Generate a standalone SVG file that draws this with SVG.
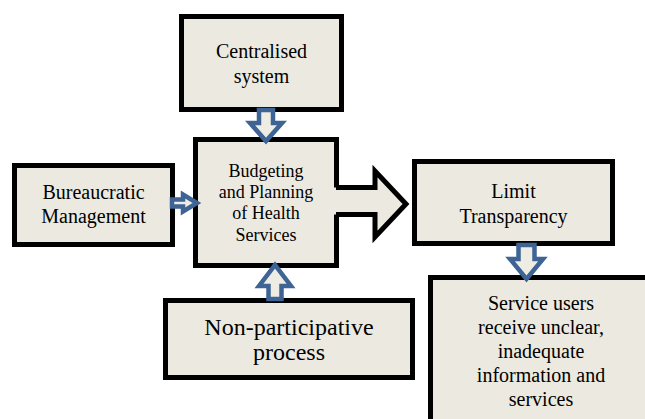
<svg xmlns="http://www.w3.org/2000/svg" width="645" height="419" viewBox="0 0 645 419">
<style>
.box{fill:#ECEAE0;stroke:#000;stroke-width:5}
.ba{fill:#EEECE3;stroke:#3D6494;stroke-width:4.5;stroke-linejoin:miter}
</style>
<rect width="645" height="419" fill="#fff"/>
<g id="centralised" font-family="Liberation Serif, Tinos, Times New Roman, Nimbus Roman, DejaVu Serif, Noto Serif, serif" text-anchor="middle" font-size="20">
<rect class="box" x="181.5" y="16.5" width="160" height="93"/>
<text x="261.5" y="58">Centralised</text>
<text x="261.5" y="83">system</text>
</g>
<g id="bureaucratic" font-family="Liberation Serif, Tinos, Times New Roman, Nimbus Roman, DejaVu Serif, Noto Serif, serif" text-anchor="middle" font-size="20">
<rect class="box" x="14.5" y="165.5" width="158" height="79"/>
<text x="93.5" y="199">Bureaucratic</text>
<text x="93.5" y="223">Management</text>
</g>
<g id="budgeting" font-family="Liberation Serif, Tinos, Times New Roman, Nimbus Roman, DejaVu Serif, Noto Serif, serif" text-anchor="middle" font-size="18">
<rect class="box" x="195.5" y="139.5" width="141" height="126"/>
<text x="266" y="177">Budgeting</text>
<text x="266" y="198">and Planning</text>
<text x="266" y="219">of Health</text>
<text x="266" y="241">Services</text>
</g>
<g id="limit" font-family="Liberation Serif, Tinos, Times New Roman, Nimbus Roman, DejaVu Serif, Noto Serif, serif" text-anchor="middle" font-size="20">
<rect class="box" x="414.5" y="161.5" width="198" height="82"/>
<text x="513.5" y="198">Limit</text>
<text x="513.5" y="223">Transparency</text>
</g>
<g id="service" font-family="Liberation Serif, Tinos, Times New Roman, Nimbus Roman, DejaVu Serif, Noto Serif, serif" text-anchor="middle" font-size="20">
<rect class="box" x="430.5" y="277.5" width="230" height="160"/>
<text x="541" y="310">Service users</text>
<text x="541" y="334">receive unclear,</text>
<text x="541" y="358">inadequate</text>
<text x="541" y="382">information and</text>
<text x="541" y="406">services</text>
</g>
<g id="nonparticipative" font-family="Liberation Serif, Tinos, Times New Roman, Nimbus Roman, DejaVu Serif, Noto Serif, serif" text-anchor="middle" font-size="24">
<rect class="box" x="165.5" y="300.5" width="247" height="77"/>
<text x="289" y="335">Non-participative</text>
<text x="289" y="360">process</text>
</g>
<g id="connectors">
<path d="M334,187.5 H375 V171 L406,204 L375,237 V214.5 H334 Z" fill="#ECEAE0" stroke="none"/>
<path d="M336,187.5 H375 V171 L406,204 L375,237 V214.5 H336" fill="none" stroke="#000" stroke-width="5" stroke-linejoin="miter"/>
<path class="ba" d="M259,110 H273 V123 H282 L266,141 L250,123 H259 Z"/>
<path class="ba" d="M518.5,245 H534.5 V259 H543 L526.5,279 L510,259 H518.5 Z"/>
<path class="ba" d="M268.5,299 V286 H259 L275,265 L291,286 H281.5 V299 Z"/>
<path class="ba" stroke-width="3.5" d="M172,199.5 H183 V194.5 L197,203 L183,211.5 V206.5 H172 Z"/>
</g>
</svg>
